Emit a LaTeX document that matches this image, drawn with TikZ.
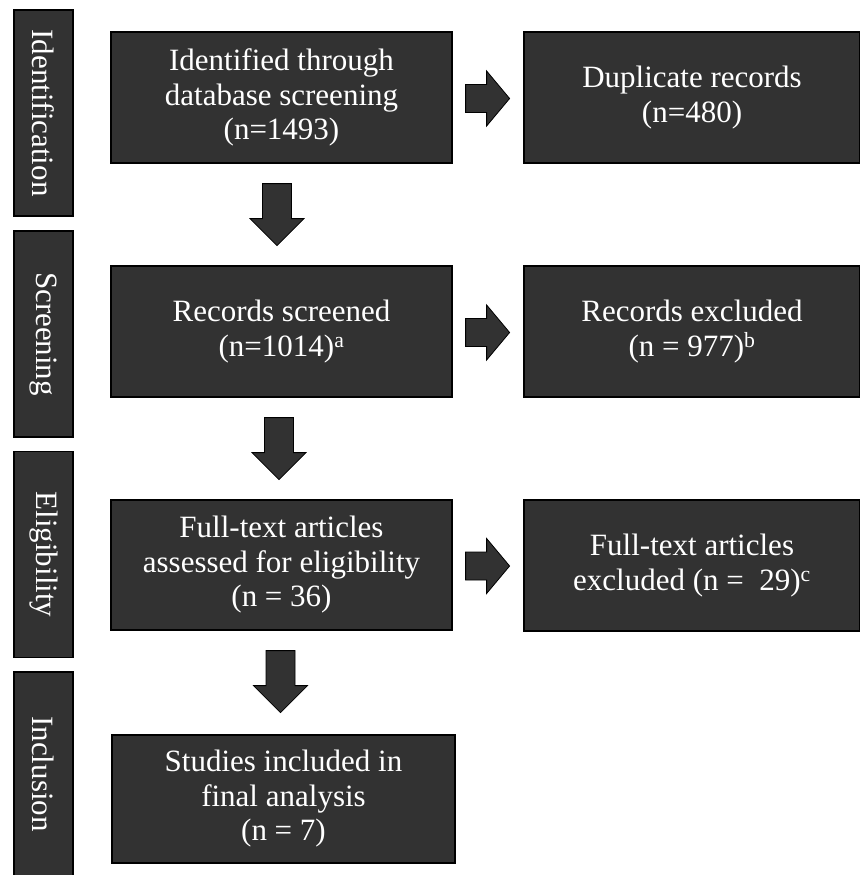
\documentclass[tikz,border=0pt]{standalone}
\usepackage{fontspec}
\setmainfont{Liberation Serif}
\usetikzlibrary{calc}
\definecolor{boxfill}{RGB}{50,50,50}
\begin{document}
\begin{tikzpicture}[x=1pt,y=-1pt,
  box/.style={draw=black,line width=1.2pt,fill=boxfill,text=white,align=center,
    inner sep=0pt,font=\fontsize{31}{34.5}\selectfont},
  side/.style={draw=black,line width=1.2pt,fill=boxfill,text=white,
    inner sep=0pt,minimum width=59pt,minimum height=206pt},
  sidetext/.style={rotate=-90,text=white,font=\fontsize{31}{34}\selectfont},
  blockarrow/.style={draw=black,line width=0.8pt,fill=boxfill,line join=miter}]
\useasboundingbox[fill=white] (0,0) rectangle (859,875);
% phase labels
\node[side] (s1) at (43.5,113) {};
\node[sidetext] (t1) at (s1.center) {Identification};
\node[side] (s2) at (43.5,334) {};
\node[sidetext] (t2) at (s2.center) {Screening};
\node[side] (s3) at (43.5,554.5) {};
\node[sidetext] (t3) at (s3.center) {Eligibility};
\node[side,minimum height=210pt] (s4) at (43.5,777) {};
\node[sidetext] (t4) at ($(s4.center)+(0,-3)$) {Inclusion};
% main column
\node[box,minimum width=341pt,minimum height=131pt] (b1) at (281.5,97.5)
  {Identified through\\database screening\\(n=1493)};
\node[box,minimum width=341pt,minimum height=131pt] (b2) at (281.5,331.5)
  {Records screened\\(n=1014)\textsuperscript{a}};
\node[box,minimum width=341pt,minimum height=130pt] (b3) at (281.5,565)
  {Full-text articles\\assessed for eligibility\\(n = 36)};
\node[box,minimum width=343pt,minimum height=128pt] (b4) at (283.5,799)
  {Studies included in\\final analysis\\(n = 7)};
% right column
\node[box,minimum width=336pt,minimum height=131pt] (r1) at (692,97.5)
  {Duplicate records\\(n=480)};
\node[box,minimum width=336pt,minimum height=131pt] (r2) at (692,331.5)
  {Records excluded\\(n = 977)\textsuperscript{b}};
\node[box,minimum width=336pt,minimum height=131pt] (r3) at (692,565.5)
  {Full-text articles\\excluded (n =\ \ 29)\textsuperscript{c}};
% right block arrows
\foreach \a/\b in {b1/r1,b2/r2,b3/r3}{
  \draw[blockarrow] ($(\a.east)+(13,-13)$) -- ++(21,0) -- ++(0,-13.5) -- ++(23,27.5)
    -- ++(-23,27.5) -- ++(0,-13.5) -- ++(-21,0) -- cycle;
}
% down block arrows
\foreach \a/\b/\dx in {b1/b2/-4.5,b2/b3/-2.5,b3/b4/-1}{
  \draw[blockarrow] ($(\a.south)+(\dx-14.5,20)$) -- ++(29,0) -- ++(0,35) -- ++(12.5,0)
    -- ++(-27,27) -- ++(-27,-27) -- ++(12.5,0) -- cycle;
}
\end{tikzpicture}
\end{document}
